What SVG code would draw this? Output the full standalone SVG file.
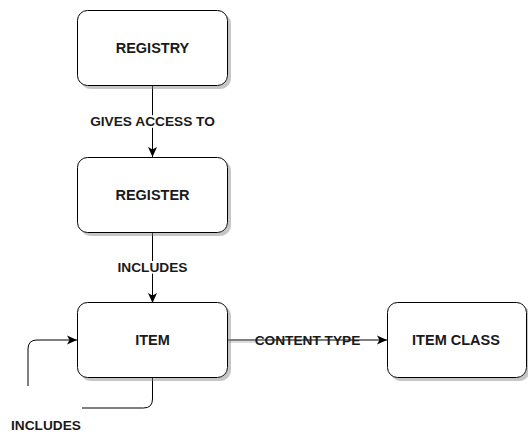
<svg xmlns="http://www.w3.org/2000/svg" width="528" height="432" viewBox="0 0 528 432">
<defs>
<marker id="arr" viewBox="0 0 10 10" refX="10" refY="5" markerWidth="10" markerHeight="10" markerUnits="userSpaceOnUse" orient="auto">
<path d="M0,0.5 L10,5 L0,9.5 L2.5,5 Z" fill="#000"/>
</marker>
<filter id="sh" x="-10%" y="-10%" width="130%" height="130%">
<feOffset in="SourceAlpha" dx="3" dy="3" result="o"/>
<feFlood flood-color="#808080" flood-opacity="0.45"/>
<feComposite in2="o" operator="in" result="s"/>
<feMerge><feMergeNode in="s"/><feMergeNode in="SourceGraphic"/></feMerge>
</filter>
</defs>
<style>
.box{fill:#fff;stroke:#000;stroke-width:1;filter:url(#sh)}
.t{font-family:"Liberation Sans",Arial,sans-serif;font-weight:bold;font-size:13.7px;fill:#1a1a1a;text-anchor:middle;dominant-baseline:central}
.n{font-size:14.5px}
.e{fill:none;stroke:#000;stroke-width:1}
</style>
<rect width="528" height="432" fill="#fff"/>
<g id="connectors">
<path class="e" d="M152.5,85 V157" marker-end="url(#arr)"/>
<path class="e" d="M152.5,232 V303" marker-end="url(#arr)"/>
<path class="e" d="M227,340 H387" marker-end="url(#arr)"/>
<path d="M227,342 H255" stroke="#bbb" stroke-width="1" fill="none"/>
<path class="e" d="M152.5,377 V399 Q152.5,408 143.5,408 H82"/>
<path class="e" d="M28,386 V349 Q28,340 37,340 H77" marker-end="url(#arr)"/>
<text class="t" x="152.5" y="121" style="paint-order:stroke" stroke="#fff" stroke-width="4">GIVES ACCESS TO</text>
<text class="t" x="152.5" y="267" style="paint-order:stroke" stroke="#fff" stroke-width="4">INCLUDES</text>
<text class="t" x="307.5" y="340">CONTENT TYPE</text>
<text class="t" x="46" y="425">INCLUDES</text>
</g>
<g id="registry">
<rect class="box" x="77.5" y="10.5" width="150" height="75" rx="10"/>
<text class="t n" x="152.5" y="47.5">REGISTRY</text>
</g>
<g id="register">
<rect class="box" x="77.5" y="157.5" width="150" height="75" rx="10"/>
<text class="t n" x="152.5" y="194.5">REGISTER</text>
</g>
<g id="item">
<rect class="box" x="77.5" y="302.5" width="150" height="75" rx="10"/>
<text class="t n" x="152.5" y="339.5">ITEM</text>
</g>
<g id="item-class">
<rect class="box" x="387.5" y="302.5" width="139" height="75" rx="10"/>
<text class="t n" x="456" y="339.5">ITEM CLASS</text>
</g>
</svg>
